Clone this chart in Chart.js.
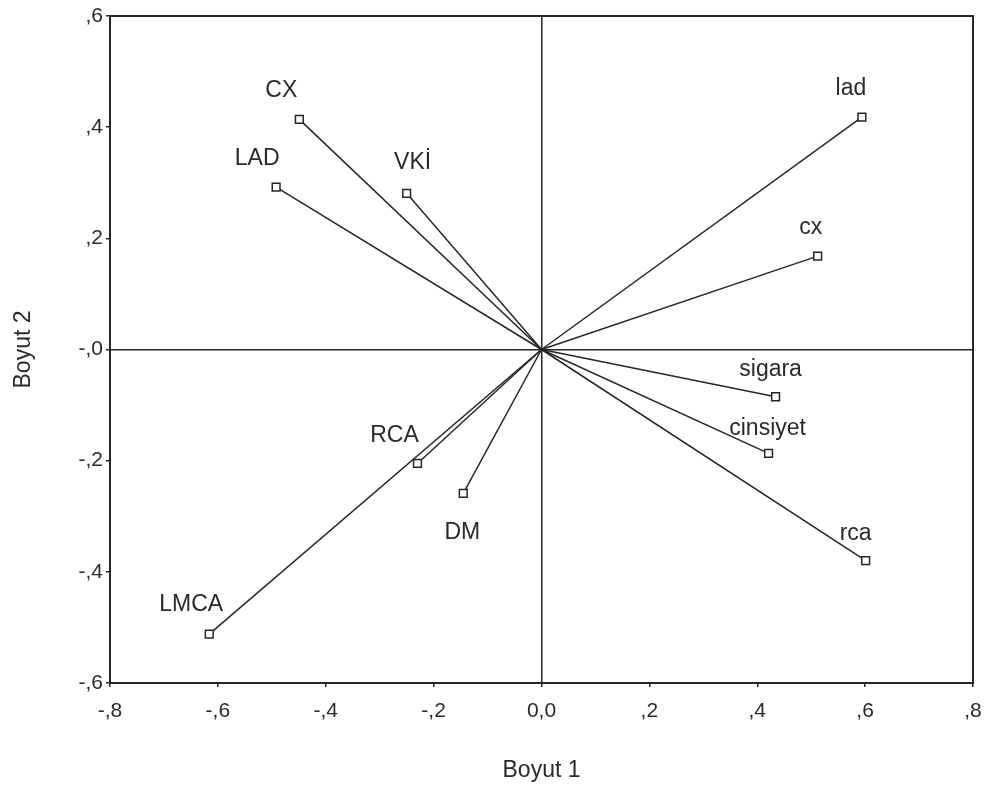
<!DOCTYPE html>
<html>
<head>
<meta charset="utf-8">
<script src="https://cdn.jsdelivr.net/npm/chart.js@4/dist/chart.umd.min.js"></script>
<style>
  body { margin: 0; background: #fff; }
  #wrap { width: 989px; height: 796px; }
</style>
</head>
<body>
<div id="wrap"><canvas id="plot" width="989" height="796"></canvas></div>
<script>
// degiskenler ve koordinatlar (Boyut 1, Boyut 2)
let etiketler = ['lad', 'cx', 'sigara', 'cinsiyet', 'rca', 'CX', 'LAD', 'VKİ', 'RCA', 'DM', 'LMCA'];
let boyut1 = [0.594, 0.512, 0.434, 0.421, 0.601, -0.449, -0.492, -0.250, -0.230, -0.145, -0.616];
let boyut2 = [0.418, 0.168, -0.085, -0.187, -0.380, 0.414, 0.292, 0.281, -0.205, -0.259, -0.512];

let xTickEtiket = ['-,8', '-,6', '-,4', '-,2', '0,0', ',2', ',4', ',6', ',8'];
let yTickEtiket = ['-,6', '-,4', '-,2', '-,0', ',2', ',4', ',6'];

// etiketlerin noktaya gore kaymasi (piksel)
let etiketKayma = [[-11, -29], [-7, -28], [-5, -27], [-1, -25], [-10, -27], [-18, -29], [-19, -29], [6, -31], [-23, -28], [-1, 39], [-18, -29]];

let cizgiRengi = '#262626';
let yazi = 'Liberation Sans, Arial, sans-serif';

// her degisken icin orijinden noktaya bir vektor
let datasets = etiketler.map((ad, i) => ({
  label: ad,
  data: [{x: 0, y: 0}, {x: boyut1[i], y: boyut2[i]}],
  showLine: true,
  borderColor: cizgiRengi,
  borderWidth: 1.5,
  pointRadius: [0, 5.5],
  pointStyle: 'rect',
  pointBorderColor: cizgiRengi,
  pointBackgroundColor: '#fff',
  pointBorderWidth: 1.5
}));

let cerceve = {
  id: 'cerceve',
  afterDraw(chart) {
    let {ctx, chartArea: a} = chart;
    ctx.save();
    ctx.strokeStyle = cizgiRengi;
    ctx.lineWidth = 2;
    ctx.strokeRect(a.left, a.top, a.right - a.left, a.bottom - a.top);
    ctx.restore();
  }
};

let noktaEtiketleri = {
  id: 'noktaEtiketleri',
  afterDatasetsDraw(chart) {
    let ctx = chart.ctx;
    ctx.save();
    ctx.font = '23px ' + yazi;
    ctx.fillStyle = '#2a2a2a';
    ctx.textAlign = 'center';
    ctx.textBaseline = 'middle';
    chart.data.datasets.forEach((ds, i) => {
      let p = chart.getDatasetMeta(i).data[1];
      ctx.fillText(ds.label, p.x + etiketKayma[i][0], p.y + etiketKayma[i][1]);
    });
    ctx.restore();
  }
};

let sifirCizgisi = ctx => (Math.abs(ctx.tick.value) < 1e-9 ? cizgiRengi : 'rgba(0,0,0,0)');

let config = {
  type: 'scatter',
  data: { datasets: datasets },
  options: {
    responsive: false,
    animation: false,
    layout: { padding: { top: 16, right: 16, left: 0, bottom: 0 } },
    plugins: { legend: { display: false }, tooltip: { enabled: false } },
    scales: {
      x: {
        type: 'linear',
        min: -0.8, max: 0.8,
        afterFit: s => { s.height = 113; s.paddingRight = 0; s.paddingLeft = 0; },
        ticks: {
          stepSize: 0.2,
          padding: 12,
          color: '#2a2a2a',
          font: { family: yazi, size: 21 },
          callback: v => xTickEtiket[Math.round((v + 0.8) / 0.2)]
        },
        grid: { color: sifirCizgisi, lineWidth: 1.5, tickColor: cizgiRengi, tickLength: 4 },
        border: { display: true, color: cizgiRengi, width: 2 },
        title: { display: true, text: 'Boyut 1', color: '#2a2a2a', font: { family: yazi, size: 23 }, padding: { top: 0, bottom: 12 } }
      },
      y: {
        type: 'linear',
        min: -0.6, max: 0.6,
        afterFit: s => { s.width = 110; s.paddingTop = 0; s.paddingBottom = 0; },
        ticks: {
          stepSize: 0.2,
          padding: 3,
          color: '#2a2a2a',
          font: { family: yazi, size: 21 },
          callback: v => yTickEtiket[Math.round((v + 0.6) / 0.2)]
        },
        grid: { color: sifirCizgisi, lineWidth: 1.5, tickColor: cizgiRengi, tickLength: 4 },
        border: { display: true, color: cizgiRengi, width: 2 },
        title: { display: true, text: 'Boyut 2', color: '#2a2a2a', font: { family: yazi, size: 23 }, padding: { top: 10, bottom: 0 } }
      }
    }
  },
  plugins: [cerceve, noktaEtiketleri]
};

let chart1 = new Chart(document.getElementById('plot'), config);
</script>
</body>
</html>
